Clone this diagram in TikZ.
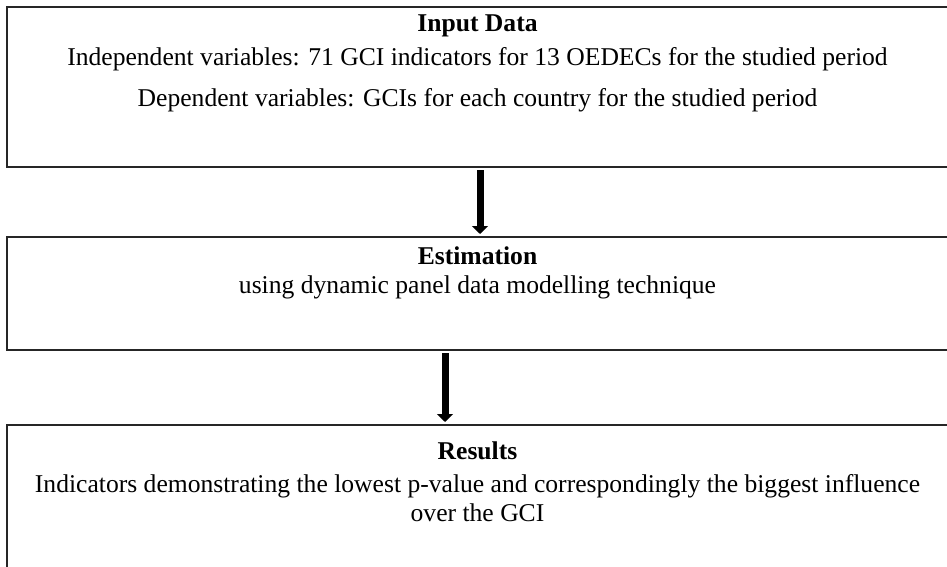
\documentclass[tikz,border=0pt]{standalone}
\usepackage{fontspec}
\setmainfont{Liberation Serif}
\usetikzlibrary{arrows.meta, positioning}

\begin{document}
\begin{tikzpicture}[
    x=0.5pt, y=0.5pt,
    % Stil für die Prozess-Boxen
    stagebox/.style={
      rectangle,
      draw=black!85,
      line width=0.8pt,
      outer sep=0pt,
      minimum width=470.5pt,
      anchor=north west
    },
    % Stil für die Überschriften in den Boxen
    headtext/.style={
      font=\fontsize{12.8pt}{15pt}\selectfont\bfseries,
      inner sep=0pt
    },
    % Stil für die normalen Textzeilen
    bodytext/.style={
      font=\fontsize{12.8pt}{15pt}\selectfont,
      inner sep=0pt
    },
    % Stil für die dicken Pfeile
    flowarrow/.style={
      -{Triangle[width=8pt, length=4pt]},
      line width=3.5pt,
      shorten <=1.5pt,
      shorten >=1.5pt
    }
  ]

  \useasboundingbox (0,0) rectangle (947,-567);
  \clip (0,0) rectangle (947,-567);

  % --- BOXEN ---

  % Stufe 1: Eingangsdaten
  \node[stagebox, minimum height=80pt] (input) at (7,-7) {};
  \node[headtext, below=12.5pt of input.north, anchor=base] (inputhead) {Input Data};
  \node[bodytext, below=29.5pt of input.north, anchor=base] (inputindep)
    {Independent variables: 71 GCI indicators for 13 OEDECs for the studied period};
  \node[bodytext, below=49.5pt of input.north, anchor=base] (inputdep)
    {Dependent variables: GCIs for each country for the studied period};

  % Stufe 2: Schätzung
  \node[stagebox, minimum height=56.5pt, below=35pt of input] (estim) {};
  \node[headtext, below=13.5pt of estim.north, anchor=base] (estimhead) {Estimation};
  \node[bodytext, below=28pt of estim.north, anchor=base] (estimtext)
    {using dynamic panel data modelling technique};

  % Stufe 3: Ergebnisse
  \node[stagebox, minimum height=71.5pt, below=37.5pt of estim] (result) {};
  \node[headtext, below=17pt of result.north, anchor=base] (resulthead) {Results};
  \node[bodytext, below=33.5pt of result.north, anchor=base] (resulttext)
    {Indicators demonstrating the lowest p-value and correspondingly the biggest influence};
  \node[bodytext, below=48pt of result.north, anchor=base] (resultmore) {over the GCI};

  % --- PFEILE ---
  \draw[flowarrow] ([xshift=1.25pt]input.south) -- ([xshift=1.25pt]estim.north);
  \draw[flowarrow] ([xshift=-16.25pt]estim.south) -- ([xshift=-16.25pt]result.north);

\end{tikzpicture}
\end{document}
